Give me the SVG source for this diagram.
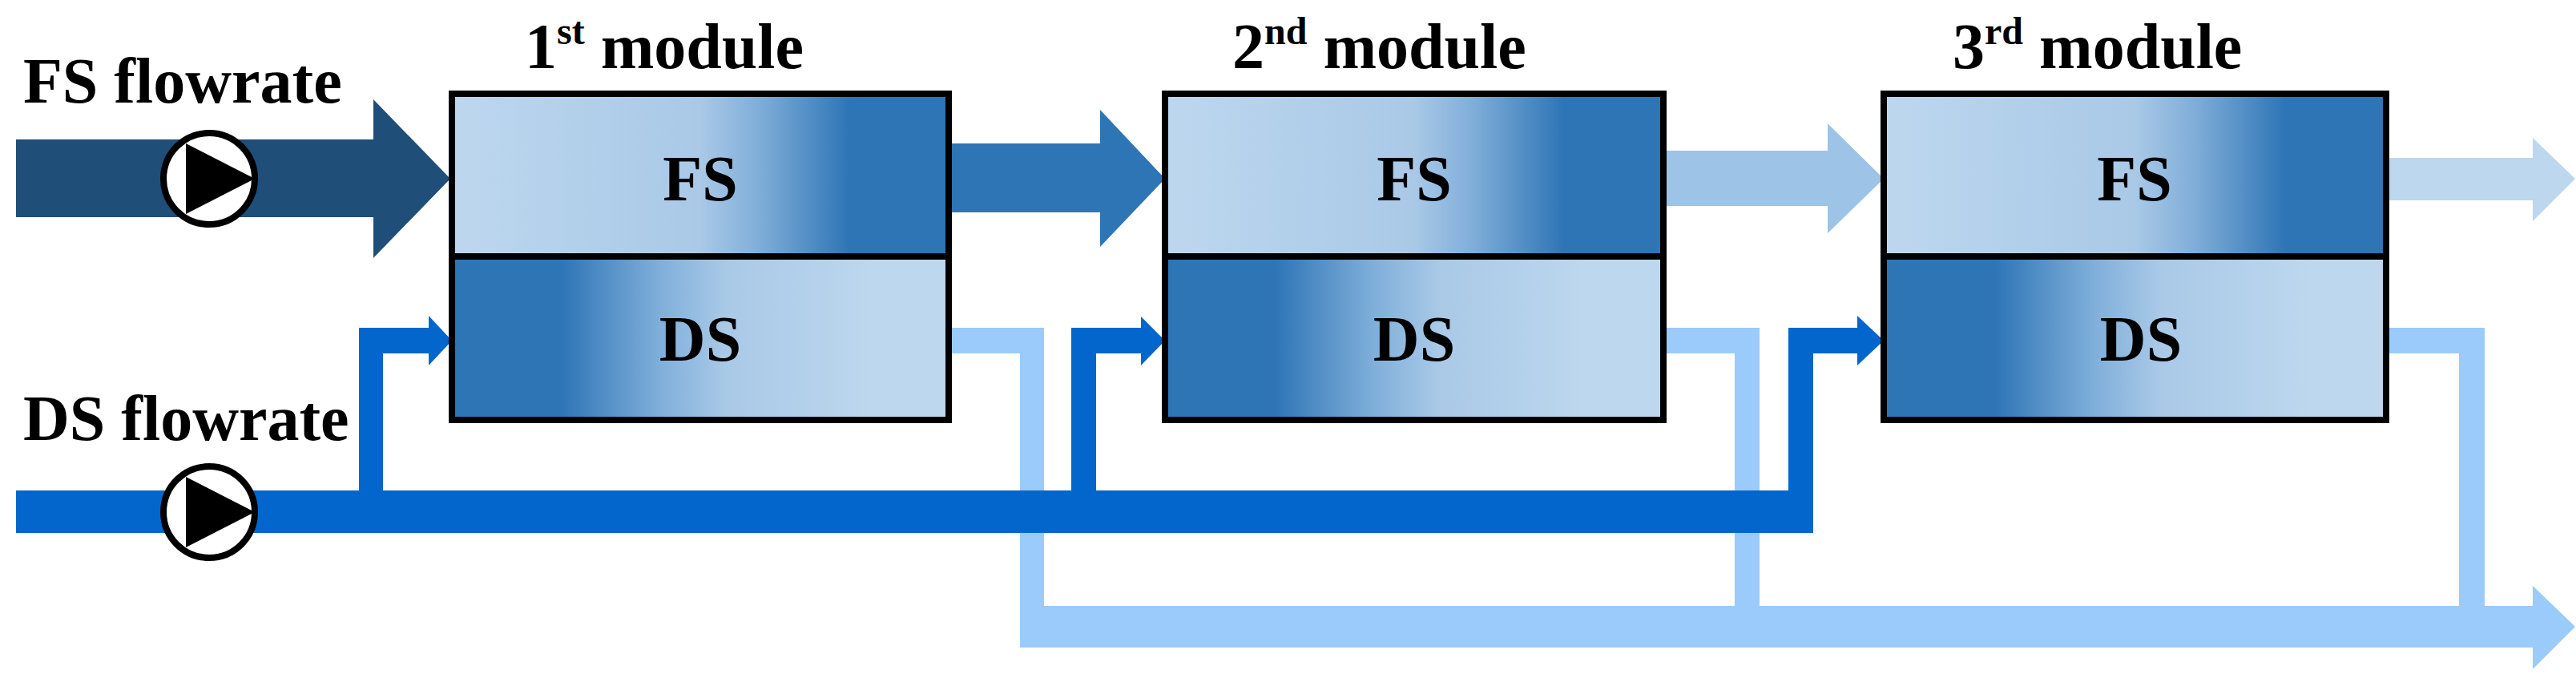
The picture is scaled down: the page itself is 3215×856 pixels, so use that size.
<svg xmlns="http://www.w3.org/2000/svg" width="3215" height="856" viewBox="0 0 3215 856">
<defs>
<linearGradient id="gfs" x1="0" x2="1" y1="0" y2="0">
<stop offset="0" stop-color="#BDD7EE"/><stop offset="0.5" stop-color="#A9C9E7"/><stop offset="0.62" stop-color="#7FADD8"/><stop offset="0.8" stop-color="#2E75B6"/><stop offset="1" stop-color="#2E75B6"/>
</linearGradient>
<linearGradient id="gds" x1="0" x2="1" y1="0" y2="0">
<stop offset="0" stop-color="#2E75B6"/><stop offset="0.22" stop-color="#2E75B6"/><stop offset="0.42" stop-color="#80AFDA"/><stop offset="0.55" stop-color="#A9C9E7"/><stop offset="0.85" stop-color="#BDD7EE"/><stop offset="1" stop-color="#BDD7EE"/>
</linearGradient>
<g id="pump"><circle r="57" fill="#fff" stroke="#000" stroke-width="8"/><polygon points="-29,-44 57,0 -29,44" fill="#000"/></g>
</defs>
<style>
text{font-family:"Liberation Serif","Times New Roman",serif;font-weight:bold;fill:#000}
.t{font-size:80px}
.s{font-size:48px}
.box{stroke:#000;stroke-width:8}
</style>
<text class="t" x="29" y="128">FS flowrate</text>
<text class="t" x="29" y="549">DS flowrate</text>
<g id="connectors">
<!-- light DS outlets -->
<g fill="#9ACBFB">
<path d="M1184,409 H1303 V756 H3161 V731 L3214,782 L3161,835 V808 H1273 V441 H1184 Z"/>
<path d="M2076,409 H2196 V756 H2165 V441 H2076 Z"/>
<path d="M2978,409 H3101 V756 H3069 V441 H2978 Z"/>
</g>
<!-- DS feed -->
<g fill="#0366CC">
<path d="M20,612 H448 V409 H535 V394 L564,425 L535,456 V441 H478 V612 H1337 V409 H1424 V395 L1454,425 L1424,456 V441 H1368 V612 H2232 V409 H2318 V394 L2351,425 L2318,456 V441 H2263 V665 H20 Z"/>
</g>
<path d="M20,174 H466 V124 L562,223 L466,322 V271 H20 Z" fill="#1F4E79"/>
<path d="M1184,179 H1373 V137 L1454,223 L1373,308 V265 H1184 Z" fill="#2E75B6"/>
<path d="M2076,188 H2281 V154 L2351,223 L2281,291 V257 H2076 Z" fill="#9DC3E6"/>
<path d="M2978,197 H3161 V172 L3214,223 L3161,276 V250 H2978 Z" fill="#BDD7EE"/>
</g>
<g id="pump1"><use href="#pump" x="261" y="223"/></g>
<g id="pump2"><use href="#pump" x="261" y="639"/></g>
<g id="module1">
<rect class="box" x="564" y="117" width="620" height="203" fill="url(#gfs)"/>
<rect class="box" x="564" y="320" width="620" height="204" fill="url(#gds)"/>
<text class="t" x="874" y="250" text-anchor="middle">FS</text>
<text class="t" x="874" y="450" text-anchor="middle">DS</text>
<text class="t" x="655" y="85">1<tspan class="s" dy="-30">st</tspan><tspan dy="30"> module</tspan></text>
</g>
<g id="module2">
<rect class="box" x="1454" y="117" width="622" height="203" fill="url(#gfs)"/>
<rect class="box" x="1454" y="320" width="622" height="204" fill="url(#gds)"/>
<text class="t" x="1765" y="250" text-anchor="middle">FS</text>
<text class="t" x="1765" y="450" text-anchor="middle">DS</text>
<text class="t" x="1538" y="85">2<tspan class="s" dy="-30">nd</tspan><tspan dy="30"> module</tspan></text>
</g>
<g id="module3">
<rect class="box" x="2351" y="117" width="627" height="203" fill="url(#gfs)"/>
<rect class="box" x="2351" y="320" width="627" height="204" fill="url(#gds)"/>
<text class="t" x="2664" y="250" text-anchor="middle">FS</text>
<text class="t" x="2672" y="450" text-anchor="middle">DS</text>
<text class="t" x="2437" y="85">3<tspan class="s" dy="-30">rd</tspan><tspan dy="30"> module</tspan></text>
</g>
</svg>
